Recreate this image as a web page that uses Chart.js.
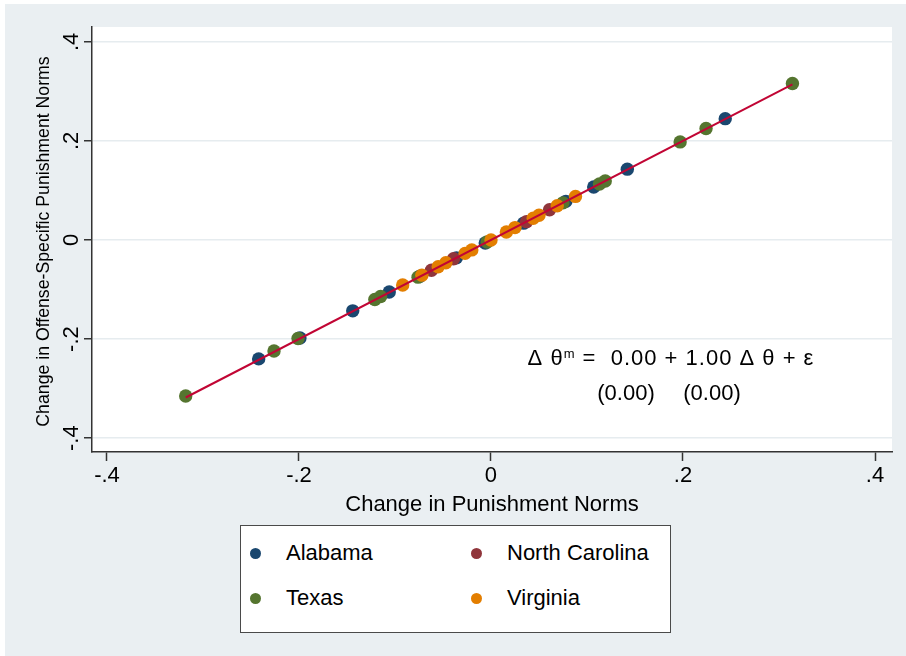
<!DOCTYPE html>
<html>
<head>
<meta charset="utf-8">
<script src="https://cdn.jsdelivr.net/npm/chart.js@4.4.1/dist/chart.umd.min.js"></script>
<style>
  html, body { margin: 0; padding: 0; background: #ffffff; }
  #frame { position: absolute; left: 5px; top: 4px; width: 901px; height: 652px; background: #eaeff2; }
  #plot { position: absolute; left: 0; top: 0; }
  #legend {
    position: absolute; left: 240px; top: 525px; width: 429px; height: 106px;
    border: 1.5px solid #4a4a4a; background: #ffffff;
    font-family: "Liberation Sans", Arial, Helvetica, sans-serif; font-size: 22px; color: #000;
  }
  .item { position: absolute; height: 26px; line-height: 26px; display: flex; align-items: center; white-space: nowrap; }
  .dot { width: 11px; height: 11px; border-radius: 50%; margin-right: 25px; flex: none; }
</style>
</head>
<body>
<div id="frame"></div>
<canvas id="plot" width="906" height="656"></canvas>
<div id="legend"></div>
<script>
// States and marker colours
const states = ["Alabama", "North Carolina", "Texas", "Virginia"];
const stateColors = ["#1a476f", "#90353b", "#55752f", "#e37e00"];

// Change in punishment norms (x) and offense-specific change (y), by state
const alabamaX = [-0.242, -0.199, -0.144, -0.106, -0.074, -0.036, -0.006, 0.034, 0.078, 0.107, 0.142, 0.244];
const alabamaY = [-0.240, -0.198, -0.143, -0.105, -0.073, -0.036, -0.006, 0.034, 0.078, 0.107, 0.143, 0.245];
const northCarolinaX = [-0.062, -0.039, 0.037, 0.061];
const northCarolinaY = [-0.061, -0.038, 0.037, 0.061];
const texasX = [-0.318, -0.226, -0.201, -0.121, -0.115, -0.076, -0.004, 0.075, 0.113, 0.119, 0.197, 0.224, 0.314];
const texasY = [-0.315, -0.224, -0.199, -0.120, -0.114, -0.075, -0.004, 0.075, 0.113, 0.119, 0.198, 0.225, 0.316];
const virginiaX = [-0.092, -0.072, -0.055, -0.047, -0.027, -0.020, 0.000, 0.016, 0.025, 0.044, 0.050, 0.069, 0.088];
const virginiaY = [-0.091, -0.071, -0.054, -0.046, -0.027, -0.020, 0.000, 0.016, 0.025, 0.044, 0.050, 0.069, 0.088];

// Fitted line: intercept, slope and the x span it covers
const fitIntercept = 0.00;
const fitSlope = 1.00;
const fitXRange = [-0.318, 0.314];

// Axis ticks
const xTicks = [-0.4, -0.2, 0, 0.2, 0.4];
const yTicks = [-0.4, -0.2, 0, 0.2, 0.4];

// Axis titles and the regression annotation
const xTitle = "Change in Punishment Norms";
const yTitle = "Change in Offense-Specific Punishment Norms";
const eqLine1 = "\u0394 \u03b8";
const eqSup = "m";
const eqLine1Rest = " =  0.00 + 1.00 \u0394 \u03b8 + \u03b5";
const seLabels = ["(0.00)", "(0.00)"];

const FONT = '"Liberation Sans", Arial, Helvetica, sans-serif';
const INK = "#000000";
const AXIS = "#333333";

function tickText(v) {
  if (Math.abs(v) < 1e-9) return "0";
  const s = Math.abs(v).toFixed(1).replace(/^0/, "");
  return (v < 0 ? "-" : "") + s;
}

function pts(xs, ys) { return xs.map((x, i) => ({ x: x, y: ys[i] })); }

const seriesX = [alabamaX, northCarolinaX, texasX, virginiaX];
const seriesY = [alabamaY, northCarolinaY, texasY, virginiaY];

const datasets = [{
  label: "Fit",
  data: fitXRange.map(x => ({ x: x, y: fitIntercept + fitSlope * x })),
  showLine: true,
  borderColor: "#c10534",
  borderWidth: 2,
  pointRadius: 0,
  order: 0
}];
states.forEach((s, i) => {
  datasets.push({
    label: s,
    data: pts(seriesX[i], seriesY[i]),
    backgroundColor: stateColors[i],
    borderColor: stateColors[i],
    borderWidth: 0,
    pointRadius: 6.7,
    pointHoverRadius: 6.7,
    order: 4 - i
  });
});

// Paints the plot region, y tick labels, axis titles and the equation
const decorations = {
  id: "decorations",
  beforeDraw(chart) {
    const { ctx, chartArea: a } = chart;
    ctx.save();
    ctx.fillStyle = "#ffffff";
    ctx.fillRect(a.left, a.top, a.right - a.left, a.bottom - a.top);
    ctx.restore();
  },
  afterDraw(chart) {
    const { ctx, chartArea: a } = chart;
    const xs = chart.scales.x, ys = chart.scales.y;
    ctx.save();
    ctx.fillStyle = INK;

    // y tick labels, rotated to read upward
    ctx.font = "22px " + FONT;
    ctx.textAlign = "center";
    ctx.textBaseline = "alphabetic";
    yTicks.forEach(v => {
      const py = ys.getPixelForValue(v);
      ctx.save();
      ctx.translate(78, py);
      ctx.rotate(-Math.PI / 2);
      ctx.fillText(tickText(v), 0, 0);
      ctx.restore();
    });

    // y title
    ctx.font = "17.7px " + FONT;
    ctx.save();
    ctx.translate(49, (a.top + a.bottom) / 2 + 2);
    ctx.rotate(-Math.PI / 2);
    ctx.fillText(yTitle, 0, 0);
    ctx.restore();

    // x title
    ctx.font = "22px " + FONT;
    ctx.fillText(xTitle, (a.left + a.right) / 2, 511);

    // regression equation with standard errors
    const cx = xs.getPixelForValue(0.1875);
    const cy = ys.getPixelForValue(-0.253);
    ctx.letterSpacing = "1px";
    ctx.font = "22px " + FONT;
    const w1 = ctx.measureText(eqLine1).width;
    ctx.font = "13px " + FONT;
    const wSup = ctx.measureText(eqSup).width;
    ctx.font = "22px " + FONT;
    const w2 = ctx.measureText(eqLine1Rest).width;
    let x0 = cx - (w1 + wSup + w2) / 2;
    ctx.textAlign = "left";
    ctx.fillText(eqLine1, x0, cy);
    ctx.font = "13px " + FONT;
    ctx.fillText(eqSup, x0 + w1, cy - 7);
    ctx.font = "22px " + FONT;
    ctx.fillText(eqLine1Rest, x0 + w1 + wSup, cy);
    ctx.letterSpacing = "0px";
    ctx.textAlign = "center";
    ctx.fillText(seLabels[0], cx - 45, cy + 35);
    ctx.fillText(seLabels[1], cx + 41, cy + 35);
    ctx.restore();
  }
};

new Chart(document.getElementById("plot"), {
  type: "scatter",
  data: { datasets: datasets },
  plugins: [decorations],
  options: {
    responsive: false,
    animation: false,
    devicePixelRatio: 1,
    layout: { padding: { left: 0, top: 27, right: 14, bottom: 134 } },
    plugins: { legend: { display: false }, tooltip: { enabled: false } },
    scales: {
      x: {
        type: "linear",
        position: "bottom",
        min: -0.4156,
        max: 0.4177,
        afterBuildTicks: s => { s.ticks = xTicks.map(v => ({ value: v })); },
        afterFit: s => { s.height = 70; },
        grid: { display: true, drawOnChartArea: false, drawTicks: true, tickLength: 9, tickColor: AXIS, tickWidth: 1.5 },
        border: { display: true, color: AXIS, width: 1.5 },
        ticks: { callback: v => tickText(v), font: { family: FONT, size: 22 }, color: INK, padding: 2, maxRotation: 0, autoSkip: false }
      },
      y: {
        type: "linear",
        position: "left",
        min: -0.428,
        max: 0.43,
        afterBuildTicks: s => { s.ticks = yTicks.map(v => ({ value: v })); },
        afterFit: s => { s.width = 92; },
        grid: { display: true, drawOnChartArea: true, drawTicks: true, tickLength: 8, color: "#e6ecef", lineWidth: 1.5, tickColor: AXIS, tickWidth: 1.5 },
        border: { display: true, color: AXIS, width: 1.5 },
        ticks: { display: false }
      }
    }
  }
});

// Legend box built from the state names and colours
const legend = document.getElementById("legend");
const slots = [[9, 14], [230, 14], [9, 59], [230, 59]];
states.forEach((name, k) => {
  const it = document.createElement("div");
  it.className = "item";
  it.style.left = slots[k][0] + "px";
  it.style.top = slots[k][1] + "px";
  const d = document.createElement("span");
  d.className = "dot";
  d.style.background = stateColors[k];
  const t = document.createElement("span");
  t.textContent = name;
  it.appendChild(d);
  it.appendChild(t);
  legend.appendChild(it);
});
</script>
</body>
</html>
